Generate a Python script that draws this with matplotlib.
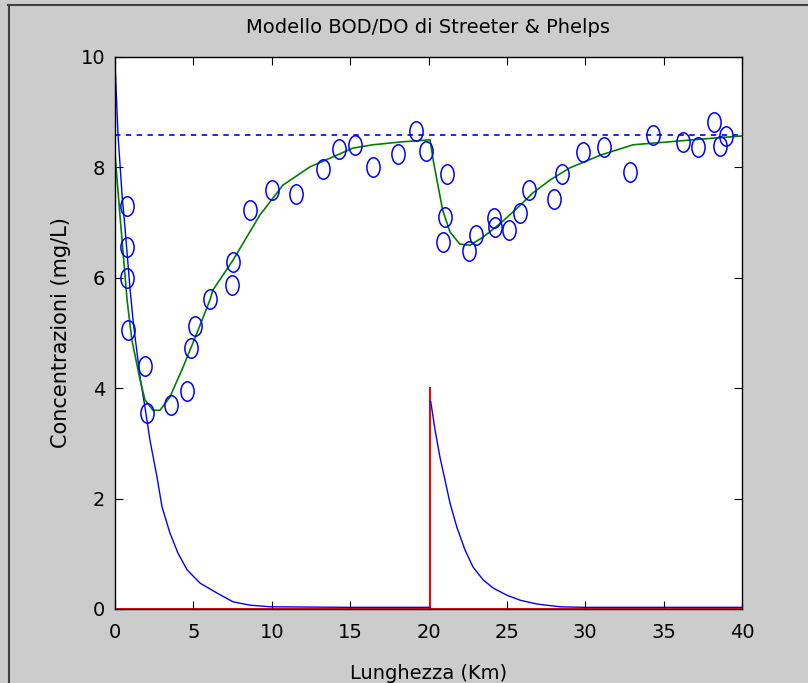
import matplotlib.pyplot as plt
from matplotlib.lines import Line2D
from matplotlib.path import Path
from matplotlib.transforms import Affine2D

# osservazioni DO (km, mg/L)
x_oss = [0.77, 0.77, 0.77, 0.83, 1.91, 2.04, 3.57, 4.59, 4.85, 5.10, 6.06, 7.46, 7.53,
         8.61, 10.02, 11.55, 13.27, 14.29, 15.31, 16.46, 18.05, 19.2, 19.84, 21.18,
         21.05, 20.93, 22.58, 23.03, 24.18, 24.24, 25.14, 25.84, 26.41, 28.0, 28.5,
         29.86, 31.2, 32.86, 34.32, 36.23, 37.2, 38.2, 38.6, 38.98]
y_oss = [7.30, 6.56, 6.0, 5.05, 4.40, 3.55, 3.70, 3.95, 4.73, 5.13, 5.62, 5.87, 6.29,
         7.23, 7.59, 7.52, 7.97, 8.33, 8.41, 8.01, 8.24, 8.66, 8.30, 7.88,
         7.10, 6.65, 6.49, 6.78, 7.08, 6.92, 6.87, 7.17, 7.59, 7.43, 7.88,
         8.28, 8.37, 7.92, 8.59, 8.46, 8.37, 8.82, 8.39, 8.57]

# modello DO
x_do = [0, 0.32, 0.77, 1.08, 1.6, 1.91, 2.42, 2.87, 3.5, 4.34, 5.23, 6.06, 6.25, 7.53,
        9.25, 10.72, 12.44, 13.9, 15.18, 16.46, 18.18, 20.1, 20.3, 20.9, 21.37, 22.0,
        22.65, 23.5, 24.6, 25.65, 26.67, 27.75, 29.0, 30.95, 33.05, 35.2, 37.3, 40]
y_do = [8.24, 7.12, 5.6, 4.87, 4.15, 3.79, 3.6, 3.6, 3.84, 4.38, 5.0, 5.6, 5.78, 6.32,
        7.14, 7.68, 8.01, 8.19, 8.35, 8.41, 8.46, 8.50, 8.13, 7.23, 6.83, 6.61,
        6.59, 6.74, 6.99, 7.26, 7.54, 7.77, 7.99, 8.22, 8.41, 8.46, 8.51, 8.57]

# modello BOD, tratto 1 (0-20 km) e tratto 2 (20-40 km)
x_bod1 = [0, 0.19, 0.45, 0.64, 0.96, 1.17, 1.6, 1.91, 2.23, 2.68, 3.0, 3.5, 4.02, 4.6,
          5.42, 6.5, 7.53, 8.6, 9.9, 15.0, 20.1]
y_bod1 = [9.9, 8.6, 7.5, 6.9, 5.8, 5.18, 4.2, 3.66, 3.06, 2.39, 1.85, 1.38, 1.01, 0.71,
          0.47, 0.29, 0.13, 0.07, 0.04, 0.03, 0.03]
x_bod2 = [20.14, 20.42, 20.73, 21.05, 21.37, 21.8, 22.33, 22.84, 23.48, 24.12, 25.0,
          25.84, 26.92, 28.4, 30.0, 35.0, 40.0]
y_bod2 = [3.76, 3.24, 2.75, 2.34, 1.92, 1.49, 1.07, 0.76, 0.53, 0.38, 0.25,
          0.16, 0.09, 0.04, 0.03, 0.03, 0.03]

# scarico
x_sc = [0, 20.1, 20.1, 20.1, 40]
y_sc = [0, 0, 4, 0, 0]

do_sat = 8.58

grigio = '#cccccc'

# cerchi "schiacciati" come nel grafico originale
ellisse = Path.unit_circle().transformed(Affine2D().scale(0.68, 1.0))

fig = plt.figure(figsize=(8.08, 6.83), dpi=100, facecolor=grigio)
ax = fig.add_axes([115/808, 1 - 609/683, 627/808, 552/683])

ax.plot([0, 40], [do_sat, do_sat], '--', color='#1010ff', lw=1.3, dashes=(3, 3))
ax.plot(x_sc, y_sc, color='#ff0000', lw=1.3)
ax.plot(x_bod1, y_bod1, color='#0000ff', lw=1.0)
ax.plot(x_bod2, y_bod2, color='#0000ff', lw=1.0)
ax.plot(x_do, y_do, color='#008000', lw=1.2)
ax.plot(x_oss, y_oss, marker=ellisse, mfc='none', mec='#0000ff', ms=14, mew=1.1, linestyle='none')

ax.set_xlim(0, 40)
ax.set_ylim(0, 10)
ax.set_xticks(range(0, 41, 5))
ax.set_yticks(range(0, 11, 2))
ax.tick_params(direction='in', length=6, top=True, right=True, labelsize=14)
ax.tick_params(axis='x', pad=10)
ax.tick_params(axis='y', pad=7)
for s in ax.spines.values():
    s.set_linewidth(1.0)

ax.set_title('Modello BOD/DO di Streeter & Phelps', fontsize=14, pad=17)
ax.set_ylabel('Concentrazioni (mg/L)', fontsize=15, labelpad=7)
ax.set_xlabel('Lunghezza (Km)', fontsize=14, labelpad=16)

# cornice finestra
fig.add_artist(Line2D([8/808, 1], [1 - 5/683, 1 - 5/683], color='#404040', lw=1.5))
fig.add_artist(Line2D([9/808, 9/808], [0, 1 - 5/683], color='#404040', lw=1.5))

fig.savefig('out.png', dpi=100, facecolor=grigio)
